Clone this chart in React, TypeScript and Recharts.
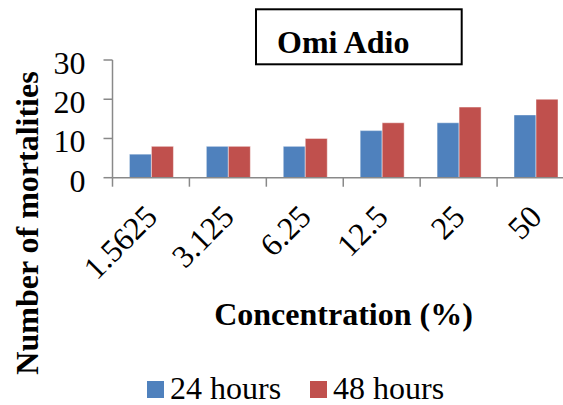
import React from 'react';
import { BarChart, Bar, XAxis, YAxis, Legend, Label } from 'recharts';

const categories = ['1.5625', '3.125', '6.25', '12.5', '25', '50'];
const hours24 = [6, 8, 8, 12, 14, 16];
const hours48 = [8, 8, 10, 14, 18, 20];
const yTicks = [0, 10, 20, 30];
const seriesNames = ['24 hours', '48 hours'];
const titleText = 'Omi Adio';
const xTitle = 'Concentration (%)';
const yTitle = 'Number of mortalities';

const BLUE = '#4F81BD';
const RED = '#C0504D';
const AXIS = '#898989';
const FONT = '"Liberation Serif", "Times New Roman", serif';

const data = categories.map((c, i) => ({ concentration: c, h24: hours24[i], h48: hours48[i] }));

const XTick = (props: any) => {
  const { x, y, payload, index } = props;
  const half = payload && typeof payload.offset === 'number' ? payload.offset : 38.45;
  const ax = x + 8;
  const ay = y + 41;
  return (
    <g>
      <line x1={x - half} x2={x - half} y1={y} y2={y + 9} stroke={AXIS} strokeWidth={1.5} />
      {index === categories.length - 1 && (
        <line x1={x + half} x2={x + half} y1={y} y2={y + 9} stroke={AXIS} strokeWidth={1.5} />
      )}
      <text
        x={ax}
        y={ay}
        textAnchor="end"
        transform={`rotate(-45, ${ax}, ${ay})`}
        fontFamily={FONT}
        fontSize={32}
        fill="#000"
      >
        {payload.value}
      </text>
    </g>
  );
};

const YTick = (props: any) => {
  const { x, y, payload } = props;
  return (
    <text x={x} y={y + 3} textAnchor="end" dominantBaseline="central" fontFamily={FONT} fontSize={32} fill="#000">
      {payload.value}
    </text>
  );
};

const LegendContent = (props: any) => {
  const { payload } = props;
  return (
    <div style={{ display: 'flex', alignItems: 'center', fontFamily: FONT, fontSize: 32, lineHeight: '32px', whiteSpace: 'nowrap' }}>
      {(payload || []).map((p: any, i: number) => (
        <div key={i} style={{ display: 'flex', alignItems: 'center', marginRight: 29 }}>
          <span style={{ display: 'inline-block', width: 17, height: 17, background: p.color, marginRight: 6, marginTop: 2 }} />
          <span style={{ color: '#000' }}>{p.value}</span>
        </div>
      ))}
    </div>
  );
};

export default function App() {
  return (
    <div style={{ position: 'absolute', left: 0, top: 0, width: 563, height: 405, overflow: 'hidden', background: '#fff' }}>
      <BarChart
        width={600}
        height={405}
        data={data}
        margin={{ top: 60, right: 26, bottom: 0, left: 0 }}
        barCategoryGap="22%"
        barGap={0}
      >
        <XAxis
          dataKey="concentration"
          type="category"
          height={227.3}
          interval={0}
          tickLine={false}
          tickSize={0}
          tickMargin={0}
          axisLine={{ stroke: AXIS, strokeWidth: 1.5 }}
          tick={<XTick />}
        >
          <Label
            content={() => (
              <text x={343.5} y={325} textAnchor="middle" fontFamily={FONT} fontSize={32} fontWeight="bold" fill="#000">
                {xTitle}
              </text>
            )}
          />
        </XAxis>
        <YAxis
          width={112.5}
          domain={[0, 30]}
          ticks={yTicks}
          interval={0}
          tickSize={9}
          tickMargin={18}
          axisLine={{ stroke: AXIS, strokeWidth: 1.5 }}
          tickLine={{ stroke: AXIS, strokeWidth: 1.5 }}
          tick={<YTick />}
        >
          <Label
            content={() => (
              <text
                x={38}
                y={223}
                textAnchor="middle"
                transform="rotate(-90, 38, 223)"
                fontFamily={FONT}
                fontSize={32}
                fontWeight="bold"
                fill="#000"
              >
                {yTitle}
              </text>
            )}
          />
        </YAxis>
        <Legend
          layout="horizontal"
          verticalAlign="middle"
          align="center"
          wrapperStyle={{ top: 372, left: 147, width: 'auto' }}
          content={<LegendContent />}
        />
        <Bar dataKey="h24" name={seriesNames[0]} fill={BLUE} stroke="rgba(255,255,255,0.45)" strokeWidth={1} isAnimationActive={false} />
        <Bar dataKey="h48" name={seriesNames[1]} fill={RED} stroke="rgba(255,255,255,0.45)" strokeWidth={1} isAnimationActive={false} />
      </BarChart>
      <svg width={563} height={405} style={{ position: 'absolute', left: 0, top: 0, pointerEvents: 'none' }}>
        <rect x={256} y={9.3} width={205.7} height={55} fill="#fff" stroke="#000" strokeWidth={2} />
        <text x={277} y={53} fontFamily={FONT} fontSize={32} fontWeight="bold" fill="#000">
          {titleText}
        </text>
      </svg>
    </div>
  );
}
